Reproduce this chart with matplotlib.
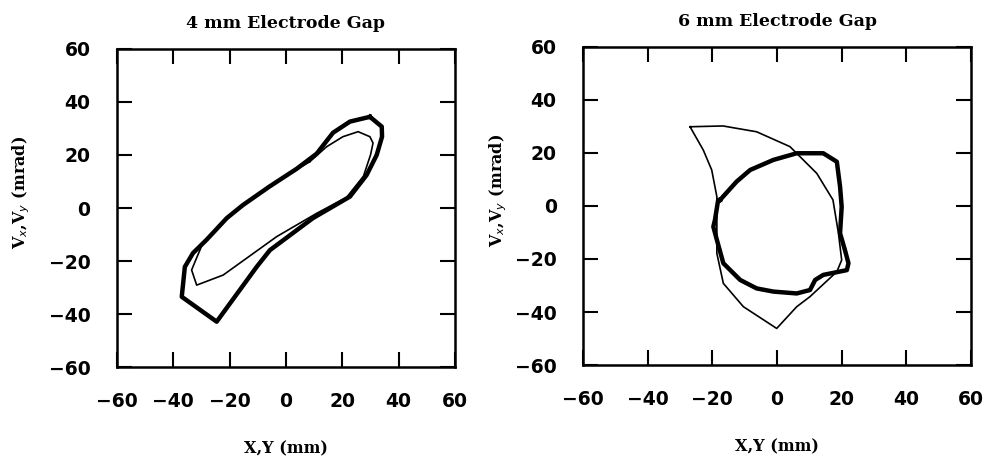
import matplotlib
matplotlib.use("Agg")
import matplotlib.pyplot as plt
from matplotlib.font_manager import FontProperties

# Phase-space boundaries (position in mm, angle in mrad)
# 4 mm electrode gap
gap4_thick_x = [29.8, 34.0, 34.1, 32.2, 28.6, 22.7, 9.6, -5.7, -10.4, -24.6,
                -37.0, -35.9, -33.0, -28.2, -21.0, -15.3, -6.0, 3.8, 10.9, 16.7, 22.7, 29.8]
gap4_thick_y = [34.4, 30.7, 26.9, 20.0, 12.4, 4.3, -3.8, -15.9, -22.2, -42.9,
                -33.5, -22.2, -17.0, -12.0, -3.8, 1.1, 8.0, 14.8, 20.5, 28.4, 32.6, 34.4]

gap4_thin_x = [8.5, 14.4, 20.2, 25.6, 29.8, 30.9, 30.0, 27.5, 21.5, 10.9, -3.3,
               -22.3, -31.7, -33.5, -32.3, -29.5, -21.0, -15.3, -6.0, 3.8, 8.5]
gap4_thin_y = [17.5, 23.1, 26.9, 28.8, 26.9, 24.5, 20.0, 12.0, 4.0, -2.0, -10.8,
               -25.3, -29.1, -23.4, -20.3, -13.2, -3.8, 1.1, 8.0, 14.5, 17.5]

# 6 mm electrode gap
gap6_thick_x = [-17.6, -12.5, -8.3, -1.1, 6.1, 14.3, 18.5, 19.5, 20.0, 19.5,
                21.0, 22.1, 21.6, 14.3, 11.8, 10.2, 6.1, -1.1, -6.3, -11.4,
                -16.6, -18.6, -19.7, -19.2, -18.2, -17.6]
gap6_thick_y = [2.3, 9.2, 13.6, 17.4, 19.9, 19.9, 16.7, 7.3, -0.3, -10.3,
                -16.6, -21.6, -24.2, -26.0, -27.9, -31.7, -33.0, -32.3, -31.1, -27.9,
                -21.6, -12.8, -7.8, -5.3, 2.3, 2.3]

gap6_thin_x = [-26.9, -16.7, -6.3, 4.0, 12.3, 17.3, 19.0, 20.0, 18.5, 10.2, 6.1,
               -0.1, -10.4, -16.6, -18.6, -18.6, -20.2, -22.8, -26.9]
gap6_thin_y = [29.9, 30.2, 28.0, 22.4, 12.3, 2.3, -10.3, -20.4, -24.8, -34.2, -38.0,
               -46.2, -38.0, -29.2, -17.9, 3.5, 13.6, 21.1, 29.9]

titles = ["4 mm Electrode Gap", "6 mm Electrode Gap"]
ticks = [-60, -40, -20, 0, 20, 40, 60]

fig = plt.figure(figsize=(9.87, 4.67), dpi=100)
ax1 = fig.add_axes([0.1185, 0.2141, 0.3425, 0.681])
ax2 = fig.add_axes([0.5907, 0.2184, 0.3931, 0.681])

panels = [
    (ax1, titles[0], (gap4_thick_x, gap4_thick_y), (gap4_thin_x, gap4_thin_y)),
    (ax2, titles[1], (gap6_thick_x, gap6_thick_y), (gap6_thin_x, gap6_thin_y)),
]

tick_fp = FontProperties(family="DejaVu Sans", weight="bold", size=13.5)
label_kw = dict(family="DejaVu Serif", weight="bold", size=11.5)
for ax, title, thick, thin in panels:
    ax.plot(*thin, color="black", lw=1.2, solid_joinstyle="round")
    ax.plot(*thick, color="black", lw=3.2, solid_joinstyle="round")
    ax.set_xlim(-60, 60)
    ax.set_ylim(-60, 60)
    ax.set_xticks(ticks)
    ax.set_yticks(ticks)
    ax.tick_params(axis="both", direction="in", length=11, width=1.5,
                   top=True, right=True, color="black")
    ax.tick_params(axis="x", pad=18)
    ax.tick_params(axis="y", pad=19)
    for lab in ax.get_xticklabels() + ax.get_yticklabels():
        lab.set_fontproperties(tick_fp)
    for sp in ax.spines.values():
        sp.set_linewidth(1.8)
    ax.set_title(title, pad=15, family="DejaVu Serif", weight="bold", size=12.5)
    ax.set_xlabel("X,Y (mm)", **label_kw)
    ax.set_ylabel(r"V$_x$,V$_y$ (mrad)", **label_kw)
    ax.xaxis.set_label_coords(0.5, -0.23)

ax1.yaxis.set_label_coords(-0.252, 0.55)
ax2.yaxis.set_label_coords(-0.19, 0.55)

fig.savefig("out.png", dpi=100)
